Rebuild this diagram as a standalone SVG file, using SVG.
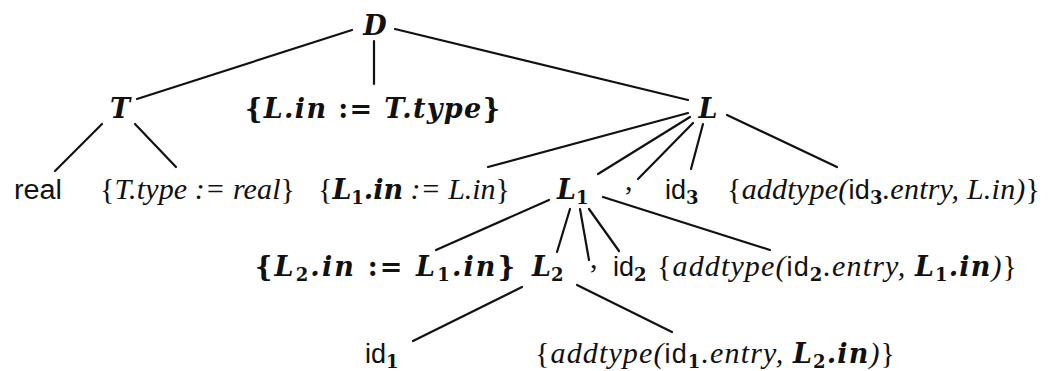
<svg xmlns="http://www.w3.org/2000/svg" width="1063" height="371" viewBox="0 0 1063 371">
<style>
text{font-family:"Liberation Serif","DejaVu Serif",serif;font-size:30px;fill:#111}
.mb{font-family:"DejaVu Serif",serif;font-size:27px;font-weight:bold;font-style:italic}
.b{font-family:"DejaVu Serif",serif;font-size:27px;font-weight:bold;font-style:normal}
.mi{font-style:italic;font-weight:normal}
.up{font-style:normal;font-weight:normal}
.sf{font-family:"Liberation Sans","DejaVu Sans",sans-serif;font-size:27px;font-style:normal;font-weight:normal}
.sub{font-family:"DejaVu Serif",serif;font-size:18px;font-weight:bold;font-style:normal}
.edges line{stroke:#111;stroke-width:2.2;stroke-linecap:round}
</style>
<rect width="1063" height="371" fill="#fff"/>
<g class="edges" id="connectors">
<line x1="352" y1="30" x2="137" y2="99"/>
<line x1="374" y1="41" x2="374" y2="84"/>
<line x1="395" y1="29" x2="688" y2="100"/>
<line x1="102" y1="124" x2="55" y2="171"/>
<line x1="135" y1="124" x2="176" y2="167"/>
<line x1="688" y1="113" x2="488" y2="167"/>
<line x1="690" y1="117" x2="598" y2="174"/>
<line x1="693" y1="123" x2="638" y2="179"/>
<line x1="703" y1="124" x2="691" y2="169"/>
<line x1="727" y1="115" x2="837" y2="167"/>
<line x1="549" y1="200" x2="436" y2="250"/>
<line x1="570" y1="209" x2="557" y2="252"/>
<line x1="580" y1="209" x2="589" y2="260"/>
<line x1="589" y1="209" x2="619" y2="251"/>
<line x1="603" y1="197" x2="770" y2="250"/>
<line x1="522" y1="287" x2="413" y2="341"/>
<line x1="577" y1="285" x2="672" y2="332"/>
</g>
<g id="D"><text class="mb" x="375" y="35" text-anchor="middle">D</text></g>
<g id="T"><text class="mb" x="120" y="118" text-anchor="middle">T</text></g>
<g id="act-D"><text class="b" x="245" y="118" textLength="255" lengthAdjust="spacing">{<tspan class="mb">L.in</tspan> := <tspan class="mb">T.type</tspan>}</text></g>
<g id="L"><text class="mb" x="708" y="118" text-anchor="middle">L</text></g>
<g id="real"><text class="sf" x="14" y="199" textLength="48" lengthAdjust="spacingAndGlyphs">real</text></g>
<g id="act-T"><text class="up" x="100" y="199" textLength="195" lengthAdjust="spacing">{<tspan class="mi">T.type := real</tspan>}</text></g>
<g id="act-L1"><text class="up" x="318" y="199" textLength="192" lengthAdjust="spacing">{<tspan class="mb">L</tspan><tspan class="sub" dy="5">1</tspan><tspan class="mb" dy="-5">.in</tspan><tspan class="mi"> := L.in</tspan>}</text></g>
<g id="L1"><text class="mb" x="557" y="199">L<tspan class="sub" dy="5">1</tspan></text></g>
<g id="comma3"><text class="up" x="625" y="190">,</text></g>
<g id="id3"><text class="sf" x="665" y="199">id<tspan class="sub" dy="5">3</tspan></text></g>
<g id="act-id3"><text class="up" x="727" y="199" textLength="313" lengthAdjust="spacing">{<tspan class="mi">addtype(</tspan><tspan class="sf">id</tspan><tspan class="sub" dy="5">3</tspan><tspan class="mi" dy="-5">.entry, L.in)</tspan>}</text></g>
<g id="act-L2"><text class="b" x="255" y="276" textLength="260" lengthAdjust="spacing">{<tspan class="mb">L</tspan><tspan class="sub" dy="5">2</tspan><tspan class="mb" dy="-5">.in</tspan> := <tspan class="mb">L</tspan><tspan class="sub" dy="5">1</tspan><tspan class="mb" dy="-5">.in</tspan>}</text></g>
<g id="L2"><text class="mb" x="532" y="276">L<tspan class="sub" dy="5">2</tspan></text></g>
<g id="comma2"><text class="up" x="590" y="268">,</text></g>
<g id="id2"><text class="sf" x="613" y="276">id<tspan class="sub" dy="5">2</tspan></text></g>
<g id="act-id2"><text class="up" x="657" y="276" textLength="360" lengthAdjust="spacing">{<tspan class="mi">addtype(</tspan><tspan class="sf">id</tspan><tspan class="sub" dy="5">2</tspan><tspan class="mi" dy="-5">.entry, </tspan><tspan class="mb">L</tspan><tspan class="sub" dy="5">1</tspan><tspan class="mb" dy="-5">.in</tspan><tspan class="mi">)</tspan>}</text></g>
<g id="id1"><text class="sf" x="365" y="363">id<tspan class="sub" dy="5">1</tspan></text></g>
<g id="act-id1"><text class="up" x="535" y="363" textLength="360" lengthAdjust="spacing">{<tspan class="mi">addtype(</tspan><tspan class="sf">id</tspan><tspan class="sub" dy="5">1</tspan><tspan class="mi" dy="-5">.entry, </tspan><tspan class="mb">L</tspan><tspan class="sub" dy="5">2</tspan><tspan class="mb" dy="-5">.in</tspan><tspan class="mi">)</tspan>}</text></g>
</svg>
